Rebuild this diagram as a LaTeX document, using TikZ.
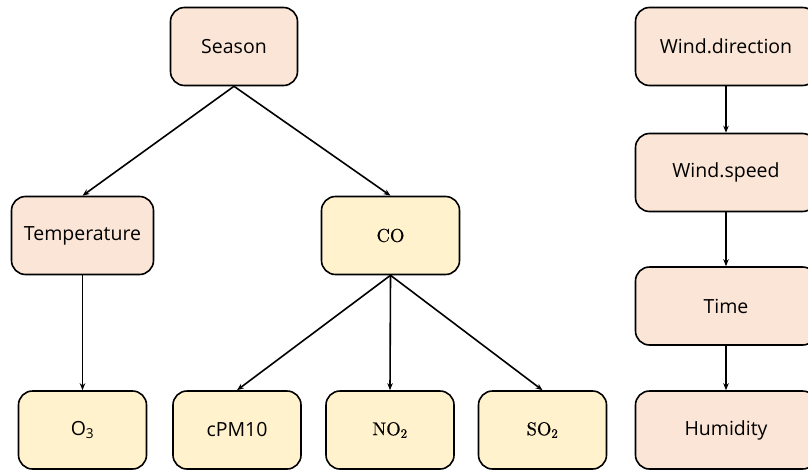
\documentclass[tikz,border=0pt]{standalone}
\usepackage{fontspec}
\setmainfont{Open Sans}
\newfontfamily\chemfont[FakeBold=0.6]{lmroman10-regular.otf}
\usetikzlibrary{arrows.meta}
\definecolor{peachc}{HTML}{FBE5D6}
\definecolor{yellc}{HTML}{FFF2CC}
\newcommand{\chemf}[1]{{\chemfont\fontsize{18.5}{22}\selectfont #1}}
\begin{document}
\begin{tikzpicture}[x=1pt,y=-1pt,
  box/.style={draw=black, line width=1.6pt, rounded corners=14pt, minimum height=78pt, inner sep=0pt, font=\fontsize{19.5}{23}\selectfont},
  peach/.style={box, fill=peachc},
  yell/.style={box, fill=yellc},
  arr/.style={-{Stealth[length=7pt,width=5.5pt]}, line width=1.6pt}]
\useasboundingbox (0,0) rectangle (808,471);
\node[peach, minimum width=127pt] (season) at (234,46.5) {Season};
\node[peach, minimum width=142pt] (temp) at (82.5,235.5) {Temperature};
\node[yell, minimum width=138pt] (co) at (390.5,235.5) {\chemf{CO}};
\node[yell, minimum width=128pt] (o3) at (82.5,430) {O\textsubscript{3}};
\node[yell, minimum width=128pt] (cpm) at (237,430) {cPM10};
\node[yell, minimum width=128pt] (no2) at (390,430) {\chemf{NO\textsubscript{2}}};
\node[yell, minimum width=128pt] (so2) at (542.5,430) {\chemf{SO\textsubscript{2}}};
\node[peach, minimum width=181pt] (wdir) at (726,46.5) {Wind.direction};
\node[peach, minimum width=181pt] (wspd) at (726,172.5) {Wind.speed};
\node[peach, minimum width=181pt] (time) at (726,306) {Time};
\node[peach, minimum width=181pt] (hum) at (726,430) {Humidity};
\draw[arr] (season.south) -- (temp.north);
\draw[arr] (season.south) -- (co.north);
\draw[arr] (temp.south) -- (o3.north);
\draw[arr] (co.south) -- (cpm.north);
\draw[arr] (co.south) -- (no2.north);
\draw[arr] (co.south) -- (so2.north);
\draw[arr] (wdir.south) -- (wspd.north);
\draw[arr] (wspd.south) -- (time.north);
\draw[arr] (time.south) -- (hum.north);
\end{tikzpicture}
\end{document}
